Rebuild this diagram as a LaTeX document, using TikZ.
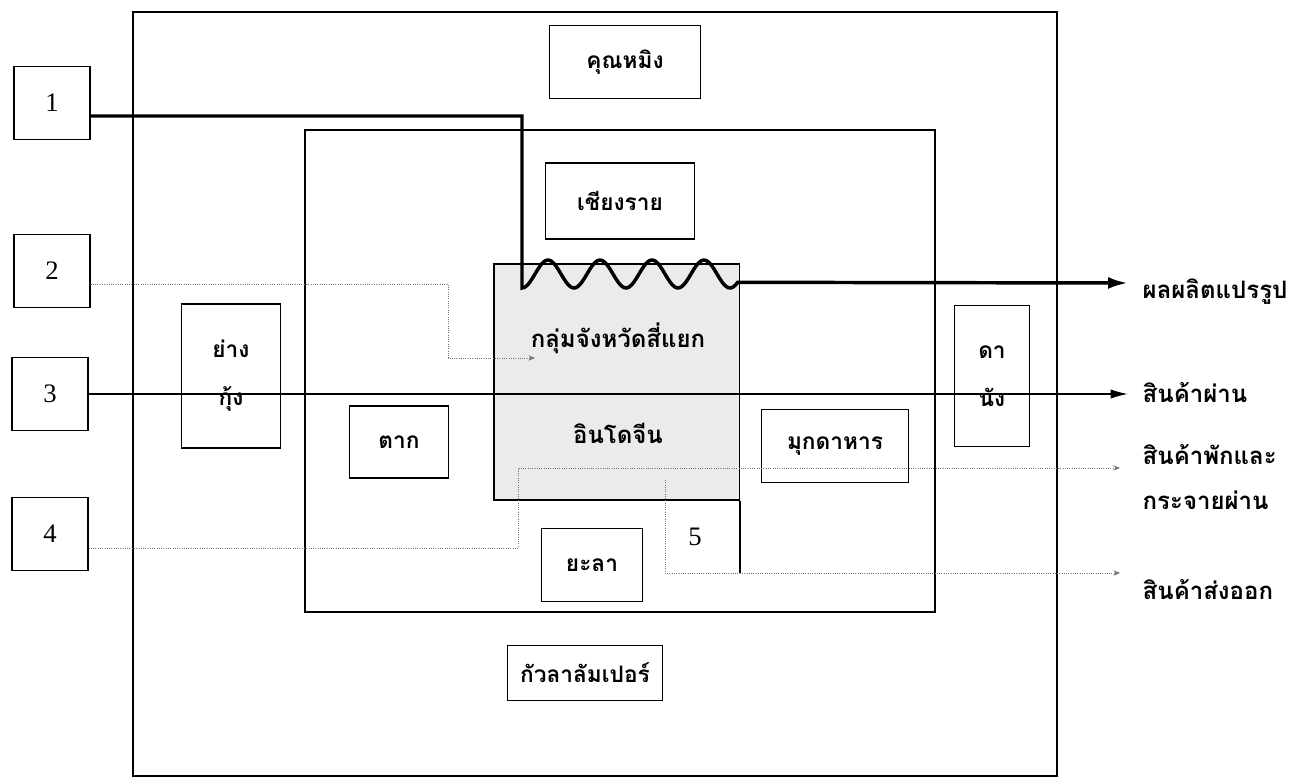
\documentclass[tikz,border=0pt]{standalone}
\usepackage{fontspec}
\setmainfont{Liberation Serif}
\newfontfamily\thai[Script=Thai]{Loma}
\usetikzlibrary{arrows.meta}

\begin{document}
\begin{tikzpicture}[x=0.75pt, y=-0.75pt,
    place/.style={draw, line width=1pt, font=\thai\bfseries\fontsize{17}{20}\selectfont},
    numbox/.style={draw, line width=1pt, minimum width=57pt, minimum height=55pt, font=\fontsize{20}{24}\selectfont},
    frame/.style={line width=1.3pt},
    mainflow/.style={line width=2.6pt, -{Latex[length=15pt, width=9pt]}},
    flow/.style={line width=1.2pt, -{Latex[length=13pt, width=7pt]}},
    dotflow/.style={densely dotted, black!55, line width=0.7pt, -{Stealth[length=5pt, width=4pt]}},
    thaitext/.style={font=\thai\bfseries\fontsize{18}{21}\selectfont}]

\path[fill=white, use as bounding box] (0,0) rectangle (1311,784);

% outer and inner frames
\draw[frame] (133,12) rectangle (1057,776);
\draw[frame] (305,130) rectangle (935,612);

% shaded centre block
\node[draw, line width=1pt, fill=black!8, minimum width=184pt, minimum height=177pt] (hub) at (616.5,382) {};
\node[thaitext] (hubtop) at (618,338) {กลุ่มจังหวัดสี่แยก};
\node[thaitext] (hubbot) at (618,433) {อินโดจีน};

% places
\node[place, minimum width=113pt, minimum height=55pt] (kunming) at (625,62) {คุณหมิง};
\node[place, minimum width=112pt, minimum height=57pt] (chiangrai) at (620,201) {เชียงราย};
\node[place, minimum width=74pt, minimum height=108pt, align=center] (yangon) at (231,376) {ย่าง\\[16pt]กุ้ง};
\node[place, minimum width=74pt, minimum height=54pt] (tak) at (399,442) {ตาก};
\node[place, minimum width=110pt, minimum height=55pt] (mukdahan) at (835,446) {มุกดาหาร};
\node[place, minimum width=56pt, minimum height=106pt, align=center] (danang) at (992,376) {ดา\\[16pt]นัง};
\node[place, minimum width=76pt, minimum height=55pt] (yala) at (592,565) {ยะลา};
\node[place, minimum width=116pt, minimum height=41pt] (kl) at (585,673) {กัวลาลัมเปอร์};

% number boxes
\node[numbox] (b1) at (52,103) {1};
\node[numbox] (b2) at (52,271) {2};
\node[numbox] (b3) at (50,394) {3};
\node[numbox] (b4) at (50,534) {4};

% bend points
\coordinate (k1) at (522,116);
\coordinate (w0) at (522,288);
\coordinate (e1) at (1128,283);
\coordinate (e3) at (1128,394);
\coordinate (d2a) at (448,284);
\coordinate (d2b) at (448,358);
\coordinate (d2c) at (535,358);
\coordinate (d4a) at (518,548);
\coordinate (d4b) at (518,468);
\coordinate (e4) at (1120,468);
\coordinate (d5a) at (665,480);
\coordinate (d5b) at (665,573);
\coordinate (e5) at (1120,573);

% flow 1: processed goods
\draw[mainflow] (b1.east |- k1) -- (k1) -- (w0)
    -- plot[domain=0:4.15, samples=90] ({522+52*\x},{274+14*cos(360*\x)}) -- (e1);

% flow 3: transit goods
\draw[flow] (b3.east) -- (b3.east -| e3);

% flow 2
\draw[dotflow] (b2.east |- d2a) -- (d2a) -- (d2b) -- (d2c);

% flow 4 and 5
\draw[dotflow] (b4.east |- d4a) -- (d4a) -- (d4b) -- (e4);
\draw[dotflow] (d5a) -- (d5b) -- (e5);
\draw[line width=1pt] (hub.south east) -- (hub.south east |- d5b);
\node[font=\fontsize{20}{24}\selectfont] (n5) at (695,537) {5};

% flow labels
\node[thaitext, right] (l1) at (1138,292) {ผลผลิตแปรรูป};
\node[thaitext, right] (l3) at (1138,393) {สินค้าผ่าน};
\node[thaitext, right] (l4a) at (1138,455) {สินค้าพักและ};
\node[thaitext, right] (l4b) at (1138,500) {กระจายผ่าน};
\node[thaitext, right] (l5) at (1138,590) {สินค้าส่งออก};

\end{tikzpicture}
\end{document}
